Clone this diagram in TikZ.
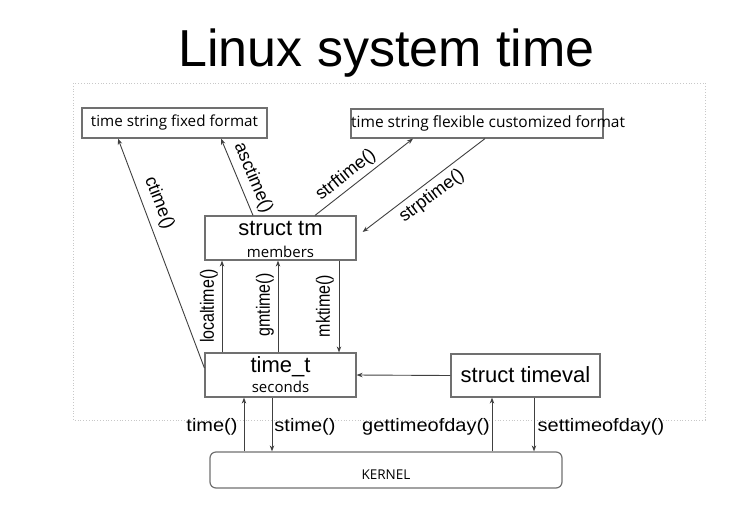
\documentclass[tikz,border=0pt]{standalone}
\usepackage{fontspec}
\setmainfont{Liberation Sans}
\newfontfamily\hum{Open Sans}
\usetikzlibrary{arrows.meta}
\definecolor{boxgray}{HTML}{707070}
\definecolor{linegray}{HTML}{404040}
\definecolor{framegray}{HTML}{C8C8C8}
\begin{document}
\begin{tikzpicture}[x=1pt,y=-1pt,
  box/.style={draw=boxgray, line width=1.2pt, inner sep=0pt},
  arr/.style={draw=linegray, line width=0.9pt, -{Stealth[length=6pt,width=4.5pt]}},
  lbl/.style={font=\fontsize{18}{22}\selectfont, inner sep=0pt, xscale=1.11},
  dlbl/.style={font=\fontsize{18}{22}\selectfont, inner sep=0pt},
  vlbl/.style={font=\fontsize{16}{20}\selectfont, inner sep=0pt, xscale=1.2, rotate=90},
  hbig/.style={font=\fontsize{22}{26}\selectfont, inner sep=0pt, anchor=base},
  hsmall/.style={font=\hum\fontsize{15}{18}\selectfont, inner sep=0pt}]
\useasboundingbox (0,0) rectangle (754,517);
% title
\node[font=\fontsize{52}{60}\selectfont, inner sep=0pt, anchor=base] (title) at (386.5,66) {Linux system time};
% dotted frame
\draw[framegray, dotted, line width=0.8pt] (73,83) rectangle (705,420);
% boxes
\node[box, minimum width=185pt, minimum height=30pt, font=\hum\fontsize{15.2}{18}\selectfont] (fixed) at (174.5,123) {time string fixed format};
\node[box, minimum width=252pt, minimum height=29pt] (flex) at (477,123.5) {};
\node[hsmall, font=\hum\fontsize{15.5}{18}\selectfont, anchor=west] (flextxt) at (351,123.5) {time string flexible customized format};
\node[box, minimum width=151pt, minimum height=44pt] (tm) at (280.5,238) {};
\node[hbig] (tmtxt) at (280.5,235) {struct tm};
\node[hsmall, anchor=base] (tmsub) at (280.5,257) {members};
\node[box, minimum width=151pt, minimum height=44pt] (tt) at (280.5,375) {};
\node[hbig] (tttxt) at (280.5,372) {time\_t};
\node[hsmall, anchor=base] (ttsub) at (280.5,392) {seconds};
\node[box, minimum width=149pt, minimum height=43pt] (tv) at (525.5,375.5) {};
\node[hbig] (tvtxt) at (525.5,382) {struct timeval};
\node[box, rounded corners=6pt, minimum width=352pt, minimum height=36pt] (kernel) at (386,470) {};
\node[hsmall, font=\hum\fontsize{13.5}{16}\selectfont, anchor=base] (kerneltxt) at (386,479) {KERNEL};
% x positions of vertical connectors
\coordinate (xl) at (222,0);
\coordinate (xg) at (278,0);
\coordinate (xm) at (339,0);
\coordinate (xa) at (244,0);
\coordinate (xs) at (272,0);
\coordinate (xgt) at (492,0);
\coordinate (xst) at (534,0);
% connectors
\draw[arr] ([yshift=7pt]tt.west) -- ([xshift=-56.5pt]fixed.south);
\draw[arr] ([xshift=-27.5pt]tm.north) -- ([xshift=46.5pt]fixed.south);
\draw[arr] ([xshift=34.5pt]tm.north) -- ([xshift=-64pt]flex.south);
\draw[arr] ([xshift=8pt]flex.south) -- ([xshift=6pt,yshift=6pt]tm.east);
\draw[arr] (tt.north -| xl) -- (tm.south -| xl);
\draw[arr] (tt.north -| xg) -- (tm.south -| xg);
\draw[arr] (tm.south -| xm) -- (tt.north -| xm);
\draw[arr] (tv.west) -- (tt.east);
\draw[arr] (kernel.north -| xa) -- (tt.south -| xa);
\draw[arr] (tt.south -| xs) -- (kernel.north -| xs);
\draw[arr] (kernel.north -| xgt) -- (tv.south -| xgt);
\draw[arr] (tv.south -| xst) -- (kernel.north -| xst);
% labels
\node[dlbl, rotate=-69] (lctime) at (159,203) {ctime()};
\node[dlbl, rotate=-67] (lasctime) at (253,178) {asctime()};
\node[dlbl, rotate=38.5] (lstrf) at (346,175) {strftime()};
\node[dlbl, rotate=37] (lstrp) at (432,196) {strptime()};
\node[vlbl] (lloc) at (209,306) {localtime()};
\node[vlbl] (lgm) at (265,305) {gmtime()};
\node[vlbl] (lmk) at (325,306) {mktime()};
\node[lbl] (ltime) at (212,427) {time()};
\node[lbl] (lstime) at (305,427) {stime()};
\node[lbl] (lget) at (426,427) {gettimeofday()};
\node[lbl] (lset) at (601,427) {settimeofday()};
\end{tikzpicture}
\end{document}
